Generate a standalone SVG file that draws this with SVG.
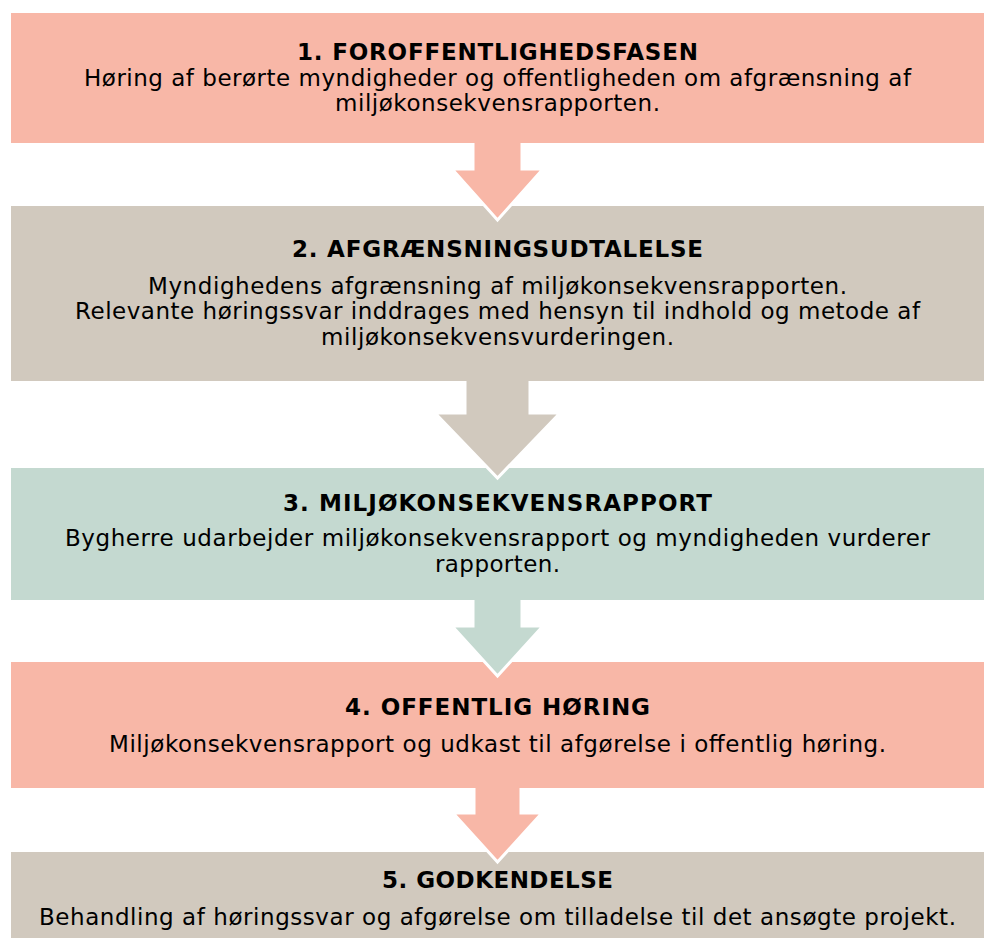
<svg xmlns="http://www.w3.org/2000/svg" width="986" height="938" viewBox="0 0 986 938">
<style>
.salmon{fill:#F8B7A7}
.beige{fill:#D1C9BE}
.sage{fill:#C4D9D0}
text{font-family:"DejaVu Sans","Verdana",sans-serif;font-size:23px;fill:#000;text-anchor:middle}
.t{font-weight:bold}
.arr{stroke:#fff;stroke-width:3;stroke-linejoin:miter}
</style>
<rect width="986" height="938" fill="#fff"/>
<g id="node5"><rect class="beige" x="11" y="852" width="973" height="86"/>
<text class="t" x="497.5" y="888" textLength="231">5. GODKENDELSE</text>
<text x="497.5" y="925" textLength="917">Behandling af høringssvar og afgørelse om tilladelse til det ansøgte projekt.</text></g>
<g id="node4"><rect class="salmon" x="11" y="662" width="973" height="126"/>
<text class="t" x="497.5" y="715" textLength="305">4. OFFENTLIG HØRING</text>
<text x="497.5" y="752" textLength="777">Miljøkonsekvensrapport og udkast til afgørelse i offentlig høring.</text></g>
<g id="node3"><rect class="sage" x="11" y="468" width="973" height="132"/>
<text class="t" x="497.5" y="511" textLength="429">3. MILJØKONSEKVENSRAPPORT</text>
<text x="497.5" y="546" textLength="865">Bygherre udarbejder miljøkonsekvensrapport og myndigheden vurderer</text>
<text x="497.5" y="572" textLength="125">rapporten.</text></g>
<g id="node2"><rect class="beige" x="11" y="206" width="973" height="175"/>
<text class="t" x="497.5" y="257" textLength="411">2. AFGRÆNSNINGSUDTALELSE</text>
<text x="497.5" y="294" textLength="699">Myndighedens afgrænsning af miljøkonsekvensrapporten.</text>
<text x="497.5" y="319" textLength="845">Relevante høringssvar inddrages med hensyn til indhold og metode af</text>
<text x="497.5" y="345" textLength="353">miljøkonsekvensvurderingen.</text></g>
<g id="node1"><rect class="salmon" x="11" y="13" width="973" height="130"/>
<text class="t" x="497.5" y="60" textLength="401">1. FOROFFENTLIGHEDSFASEN</text>
<text x="497.5" y="86" textLength="827">Høring af berørte myndigheder og offentligheden om afgrænsning af</text>
<text x="497.5" y="111" textLength="325">miljøkonsekvensrapporten.</text></g>
<g id="connectors">
<path class="arr salmon" d="M473,143 L473,169 L452,169 L497.5,220 L543,169 L522,169 L522,143"/>
<path class="arr beige" d="M465,381 L465,413 L435,413 L497.5,478 L560,413 L530,413 L530,381"/>
<path class="arr sage" d="M473,600 L473,626 L452,626 L497.5,676 L543,626 L522,626 L522,600"/>
<path class="arr salmon" d="M474,788 L474,813 L453,813 L497.5,862 L542,813 L521,813 L521,788"/>
</g>
</svg>
